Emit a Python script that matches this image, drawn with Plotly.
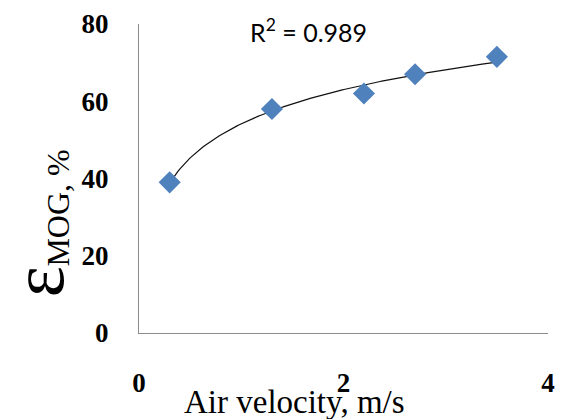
import numpy as np
import plotly.graph_objects as go

# Data
air_velocity = [0.3, 1.3, 2.2, 2.7, 3.5]
efficiency = [39.0, 58.0, 62.0, 67.0, 71.5]
x_ticks = [0, 2, 4]
y_ticks = [0, 20, 40, 60, 80]
r2_label = "R<sup>2</sup> = 0.989"

# Logarithmic trendline (y = a ln x + b)
a, b = np.polyfit(np.log(air_velocity), efficiency, 1)
xt = np.linspace(min(air_velocity), max(air_velocity), 200)
yt = a * np.log(xt) + b

fig = go.Figure()
fig.add_trace(go.Scatter(x=xt, y=yt, mode="lines",
                         line=dict(color="#111111", width=1.2), hoverinfo="skip"))
fig.add_trace(go.Scatter(x=air_velocity, y=efficiency, mode="markers",
                         marker=dict(symbol="diamond", size=17, color="#4F81BD",
                                     line=dict(width=0))))

fig.update_layout(
    width=564, height=419,
    margin=dict(l=139, r=9, t=21, b=86),
    paper_bgcolor="white", plot_bgcolor="white",
    showlegend=False,
    xaxis=dict(range=[0, 4], tickvals=x_ticks, showgrid=False, zeroline=False,
               showline=True, linecolor="#8c8c8c", linewidth=1, ticks="",
               ticklabelstandoff=26,
               tickfont=dict(family="Liberation Serif", size=27, color="black", weight="bold")),
    yaxis=dict(range=[0, 80], tickvals=y_ticks, showgrid=False, zeroline=False,
               showline=True, linecolor="#8c8c8c", linewidth=1, ticks="",
               ticklabelstandoff=24,
               tickfont=dict(family="Liberation Serif", size=27, color="black", weight="bold")),
    annotations=[
        dict(text=r2_label, x=311, y=28, showarrow=False,
             font=dict(family="Lato", size=25, color="black")),
        dict(text="Air velocity, m/s", x=297, y=403, showarrow=False,
             font=dict(family="Liberation Serif", size=33, color="black")),
        dict(text="ε", x=36, y=281, textangle=-90, showarrow=False,
             font=dict(family="Liberation Serif", size=74, color="black")),
        dict(text="MOG, %", x=57, y=207, textangle=-90, showarrow=False,
             font=dict(family="Liberation Serif", size=32, color="black")),
    ],
)

# Convert pixel positions of annotations to paper coords
W, H = 564, 419
l, r, t, bm = 139, 9, 21, 86
pw, ph = W - l - r, H - t - bm
for ann in fig.layout.annotations:
    px, py = ann.x, ann.y
    ann.xref = "paper"; ann.yref = "paper"
    ann.x = (px - l) / pw
    ann.y = (H - bm - py) / ph
    ann.xanchor = "center"; ann.yanchor = "middle"

fig.write_html("out.html")
